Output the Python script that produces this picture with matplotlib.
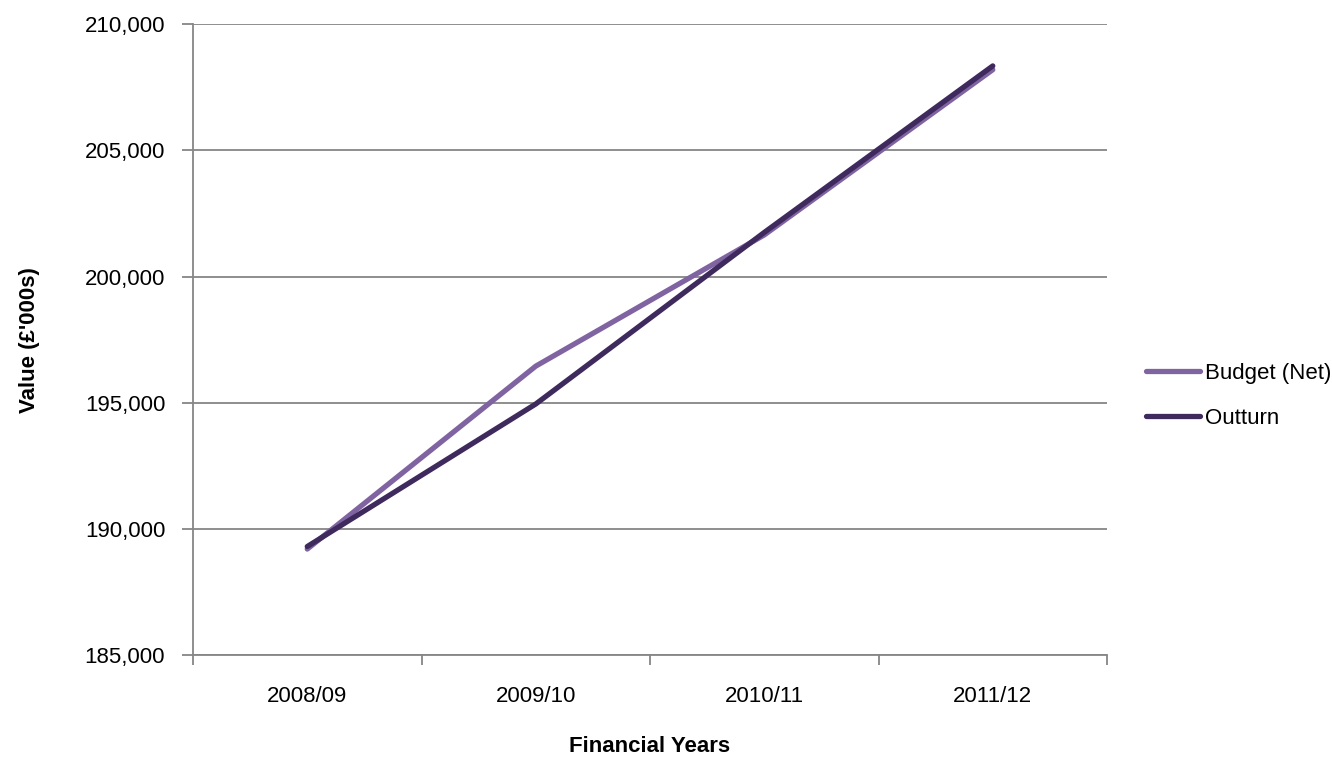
import matplotlib.pyplot as plt
from matplotlib.ticker import FuncFormatter, FixedLocator

plt.rcParams['font.family'] = ['Liberation Sans', 'DejaVu Sans']

years = ['2008/09', '2009/10', '2010/11', '2011/12']
budget_net = [189200, 196450, 201650, 208200]
outturn = [189300, 194950, 201750, 208350]

grid_grey = '#868686'
fs = 16

fig = plt.figure(figsize=(13.32, 7.59), dpi=100)
ax = fig.add_axes([0.1449, 0.137, 0.6862, 0.831])

x = range(len(years))
ax.plot(x, budget_net, color='#8064A2', lw=3.8, solid_capstyle='round',
        label='Budget (Net)', zorder=3)
ax.plot(x, outturn, color='#3F2A5E', lw=3.8, solid_capstyle='round',
        label='Outturn', zorder=4)

ax.set_xlim(-0.5, len(years) - 0.5)
ax.set_ylim(185000, 210000)
ax.set_yticks(range(185000, 210001, 5000))
ax.yaxis.set_major_formatter(FuncFormatter(lambda v, p: f'{v:,.0f}'))
ax.grid(axis='y', color=grid_grey, lw=1.3)
ax.set_axisbelow(True)

# category labels sit in the middle, ticks fall between them
ax.set_xticks(list(x))
ax.set_xticklabels(years)
ax.xaxis.set_minor_locator(FixedLocator([i - 0.5 for i in range(len(years) + 1)]))
ax.tick_params(axis='x', which='major', length=0, pad=22, labelsize=fs)
ax.tick_params(axis='x', which='minor', length=7, width=1.3, color=grid_grey)
ax.tick_params(axis='y', length=8, width=1.3, color=grid_grey, pad=12, labelsize=fs)

for side in ['top', 'right']:
    ax.spines[side].set_visible(False)
for side in ['left', 'bottom']:
    ax.spines[side].set_color(grid_grey)
    ax.spines[side].set_linewidth(1.3)

ax.set_xlabel('Financial Years', fontsize=fs, fontweight='bold', labelpad=21)
ax.set_ylabel("Value (£'000s)", fontsize=fs, fontweight='bold', labelpad=32)

ax.legend(loc='center left', bbox_to_anchor=(1.0427, 0.411), frameon=False,
          borderaxespad=0, borderpad=0, fontsize=fs, handlelength=2.45,
          handletextpad=0.2, labelspacing=1.1)

fig.savefig('out.png', dpi=100)
